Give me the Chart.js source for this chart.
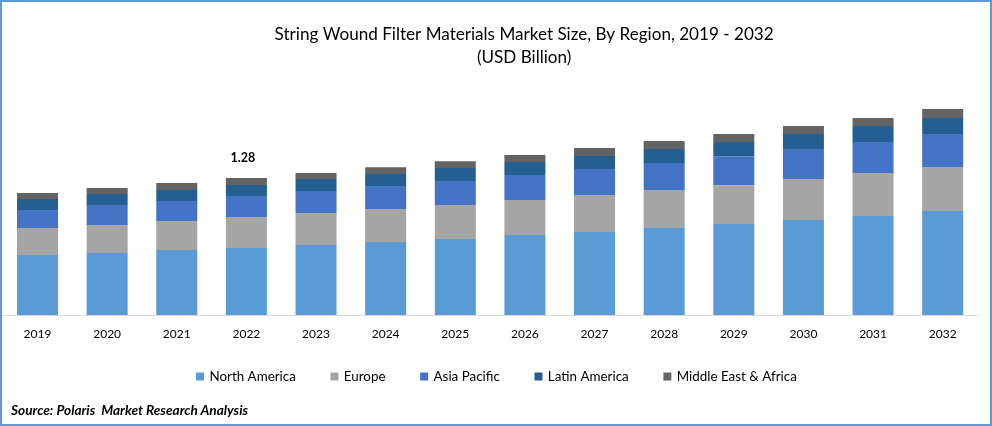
<!DOCTYPE html>
<html><head><meta charset="utf-8">
<style>
html,body{margin:0;padding:0;background:#fff;overflow:hidden}
#wrap{position:relative;width:992px;height:426px}
canvas{position:absolute;left:0;top:0}
#frame{position:absolute;left:0;top:0;width:992px;height:426px;box-sizing:border-box;border:2px solid #5b9bd5;pointer-events:none}
#source{position:absolute;left:11px;top:402px;font:italic 700 13.65px Lato,sans-serif;color:#000;white-space:pre}
</style>
<script src="https://cdn.jsdelivr.net/npm/chart.js@4/dist/chart.umd.min.js"></script>
</head><body>
<div id="wrap"><canvas id="c" width="992" height="426"></canvas><div id="frame"></div><div id="source">Source: Polaris  Market Research Analysis</div></div>
<script>
const years = ['2019','2020','2021','2022','2023','2024','2025','2026','2027','2028','2029','2030','2031','2032'];
const northAmerica = [.561,.579,.607,.626,.654,.682,.710,.748,.776,.813,.850,.888,.925,.972];
const europe = [.252,.262,.271,.290,.299,.308,.318,.327,.346,.355,.364,.383,.402,.411];
const asiaPacific = [.168,.187,.187,.196,.206,.215,.224,.234,.243,.252,.271,.280,.290,.308];
const latinAmerica = [.103,.103,.103,.103,.112,.112,.121,.121,.121,.131,.131,.140,.150,.150];
const middleEastAfrica = [.056,.056,.065,.065,.056,.065,.065,.065,.075,.075,.075,.075,.075,.084];
const annotatedYear = '2022';
const annotatedText = '1.28';
const dataset = (label, data, color) => ({label, data, backgroundColor: color, borderWidth: 0, barPercentage: 0.589, categoryPercentage: 1, stack: 's'});
const adjust = {
  id: 'adjust',
  afterLayout(chart) {
    const t = chart.titleBlock; t.left += 34; t.right += 34;
    const l = chart.legend; l.top -= 8.2; l.left += 7; l.right += 7;
  },
  afterDatasetsDraw(chart) {
    const i = years.indexOf(annotatedYear);
    let sum = 0;
    chart.data.datasets.forEach(d => sum += d.data[i]);
    const ctx = chart.ctx;
    ctx.save();
    ctx.font = '700 12.5px Lato, sans-serif';
    ctx.fillStyle = '#000';
    ctx.textAlign = 'center';
    ctx.textBaseline = 'middle';
    ctx.fillText(annotatedText, chart.scales.x.getPixelForValue(i) - 3.5, chart.scales.y.getPixelForValue(sum) - 20);
    ctx.restore();
  }
};
new Chart(document.getElementById('c'), {
  type: 'bar',
  data: {labels: years, datasets: [
    dataset('North America', northAmerica, '#5b9bd5'),
    dataset('Europe', europe, '#a5a5a5'),
    dataset('Asia Pacific', asiaPacific, '#4472c4'),
    dataset('Latin America', latinAmerica, '#255e91'),
    dataset('Middle East & Africa', middleEastAfrica, '#636363')
  ]},
  plugins: [adjust],
  options: {
    responsive: false, animation: false,
    layout: {padding: {left: 2.7, right: 14.5, top: 0, bottom: 24.5}},
    plugins: {
      tooltip: {enabled: false},
      title: {display: true, text: ['String Wound Filter Materials Market Size, By Region, 2019 - 2032', '(USD Billion)'],
        color: '#000', font: {family: 'Lato', size: 17.1, weight: 'normal', lineHeight: 1.345}, padding: {top: 23, bottom: 0}},
      legend: {position: 'bottom', labels: {usePointStyle: true, pointStyle: 'rect', boxWidth: 5.3, boxHeight: 8, padding: 36, color: '#000', font: {family: 'Lato', size: 13.4}}}
    },
    scales: {
      x: {stacked: true, offset: true, grid: {display: false, drawTicks: false}, border: {color: '#d9d9d9', width: 1},
        ticks: {color: '#000', font: {family: 'Lato', size: 12}, padding: 11.5, maxRotation: 0, autoSkip: false},
        afterFit(s) { s.height = 27; }},
      y: {stacked: true, display: false, min: 0, max: 2.299}
    }
  }
});
</script>
</body></html>
